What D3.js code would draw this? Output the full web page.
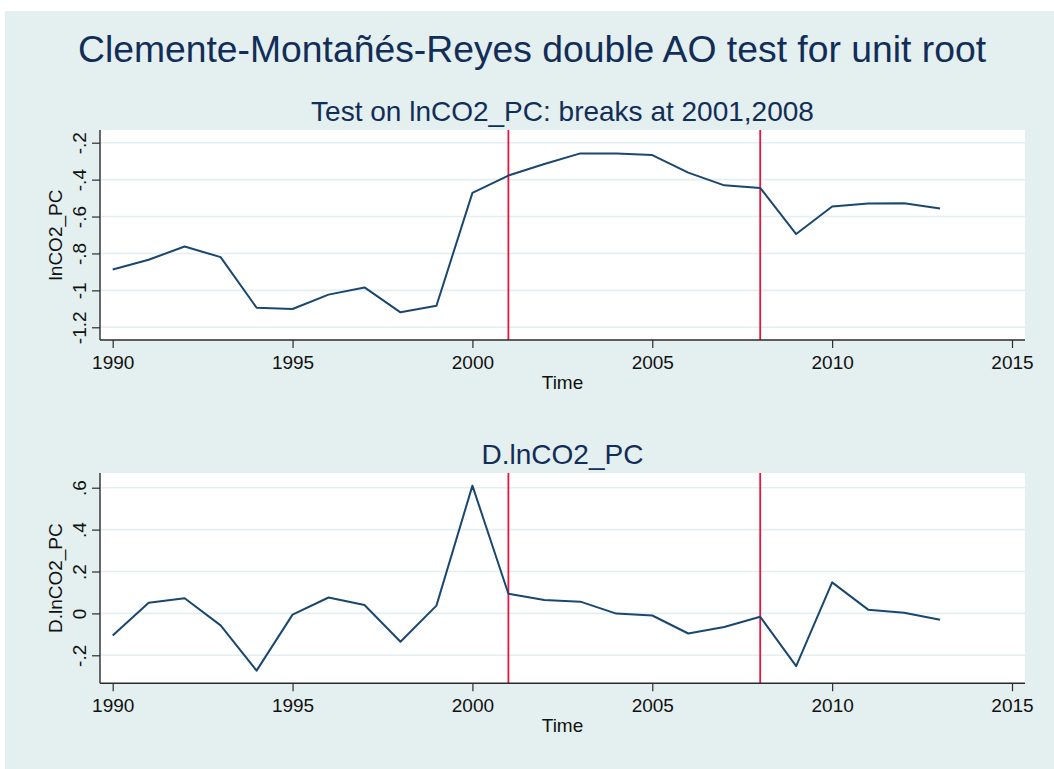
<!DOCTYPE html>
<html>
<head>
<meta charset="utf-8">
<script src="https://cdn.jsdelivr.net/npm/d3@7"></script>
<style>
  body { margin: 0; background: #ffffff; }
  text { font-family: "Liberation Sans", Arial, sans-serif; }
</style>
</head>
<body>
<div id="viz-container"></div>
<script>
// data
let years = [1990, 1991, 1992, 1993, 1994, 1995, 1996, 1997, 1998, 1999, 2000, 2001,
             2002, 2003, 2004, 2005, 2006, 2007, 2008, 2009, 2010, 2011, 2012, 2013];
let lnCO2 = [-0.887, -0.834, -0.762, -0.820, -1.094, -1.101, -1.023, -0.984, -1.119, -1.083, -0.472, -0.378,
             -0.315, -0.258, -0.258, -0.267, -0.362, -0.431, -0.445, -0.695, -0.546, -0.530, -0.528, -0.557];
let dLnCO2 = [-0.105, 0.051, 0.072, -0.057, -0.273, -0.006, 0.076, 0.040, -0.135, 0.037, 0.610, 0.094,
              0.064, 0.056, -0.001, -0.010, -0.096, -0.065, -0.016, -0.252, 0.148, 0.018, 0.003, -0.030];
let breaks = [2001, 2008];
let xTicks = [1990, 1995, 2000, 2005, 2010, 2015];
let topTicks = [-1.2, -1, -0.8, -0.6, -0.4, -0.2];
let topTickLabels = ["-1.2", "-1", "-.8", "-.6", "-.4", "-.2"];
let botTicks = [-0.2, 0, 0.2, 0.4, 0.6];
let botTickLabels = ["-.2", "0", ".2", ".4", ".6"];

let navy = "#1a476f";
let titleCol = "#122d58";

let viz = d3.select("#viz-container")
  .append("svg")
    .attr("width", 1054)
    .attr("height", 769)
;

// graph region
viz.append("rect")
    .attr("x", 5).attr("y", 11)
    .attr("width", 1049).attr("height", 758)
    .attr("fill", "#e4efef")
;

viz.append("text")
    .attr("x", 532).attr("y", 62)
    .attr("text-anchor", "middle")
    .attr("font-size", 37.3)
    .attr("fill", titleCol)
    .text("Clemente-Montañés-Reyes double AO test for unit root")
;

// same x scale for both panels
let x = d3.scaleLinear().domain([1990, 2015]).range([112.7, 1012]);
let left = 100, right = 1025;

function panel(opt) {
  let g = viz.append("g");
  let y = d3.scaleLinear().domain(opt.domain).range(opt.range);

  g.append("rect")
      .attr("x", left).attr("y", opt.top)
      .attr("width", right - left).attr("height", opt.bottom - opt.top)
      .attr("fill", "white");

  // grid
  g.selectAll(".grid").data(opt.ticks).enter()
    .append("line")
      .attr("x1", left).attr("x2", right)
      .attr("y1", d => y(d)).attr("y2", d => y(d))
      .attr("stroke", "#e3eef0")
      .attr("stroke-width", 1.6);

  // break lines
  g.selectAll(".brk").data(breaks).enter()
    .append("line")
      .attr("x1", d => x(d)).attr("x2", d => x(d))
      .attr("y1", opt.top).attr("y2", opt.bottom)
      .attr("stroke", "#e8163e")
      .attr("stroke-width", 1.8);

  let line = d3.line()
    .x((d, i) => x(years[i]))
    .y(d => y(d));

  g.append("path")
      .datum(opt.values)
      .attr("d", line)
      .attr("fill", "none")
      .attr("stroke", navy)
      .attr("stroke-width", 2)
      .attr("stroke-linejoin", "round");

  // y axis
  let yAxis = g.append("g")
      .attr("transform", `translate(${left},0)`)
      .call(d3.axisLeft(y).tickValues(opt.ticks)
        .tickFormat((d, i) => opt.tickLabels[i]).tickSize(8).tickSizeOuter(0));
  yAxis.select(".domain").remove();
  yAxis.selectAll("line").attr("stroke", "#2b2b2b").attr("stroke-width", 1.2);
  yAxis.selectAll("text")
      .attr("x", 0).attr("dy", 0)
      .attr("transform", "translate(-14,0) rotate(-90)")
      .attr("text-anchor", "middle")
      .attr("font-size", 19)
      .attr("font-family", "Liberation Sans, Arial, sans-serif")
      .attr("fill", "#111");

  // x axis
  let xAxis = g.append("g")
      .attr("transform", `translate(0,${opt.bottom})`)
      .call(d3.axisBottom(x).tickValues(xTicks)
        .tickFormat(d3.format("d")).tickSize(8).tickSizeOuter(0));
  xAxis.select(".domain").remove();
  xAxis.selectAll("line").attr("stroke", "#2b2b2b").attr("stroke-width", 1.2);
  xAxis.selectAll("text")
      .attr("y", 29).attr("dy", 0)
      .attr("font-size", 19)
      .attr("font-family", "Liberation Sans, Arial, sans-serif")
      .attr("fill", "#111");

  // axis lines
  g.append("line")
      .attr("x1", left).attr("x2", left)
      .attr("y1", opt.top).attr("y2", opt.bottom)
      .attr("stroke", "#2b2b2b").attr("stroke-width", 1.4);
  g.append("line")
      .attr("x1", left).attr("x2", right)
      .attr("y1", opt.bottom).attr("y2", opt.bottom)
      .attr("stroke", "#2b2b2b").attr("stroke-width", 1.4);

  // titles
  g.append("text")
      .attr("x", (left + right) / 2).attr("y", opt.top - 9)
      .attr("text-anchor", "middle")
      .attr("font-size", 28)
      .attr("fill", titleCol)
      .text(opt.subtitle);
  g.append("text")
      .attr("x", (left + right) / 2).attr("y", opt.bottom + 49)
      .attr("text-anchor", "middle")
      .attr("font-size", 19)
      .attr("fill", "#111")
      .text("Time");
  g.append("text")
      .attr("transform", `translate(62,${(opt.top + opt.bottom) / 2}) rotate(-90)`)
      .attr("text-anchor", "middle")
      .attr("font-size", 19)
      .attr("fill", "#111")
      .text(opt.ytitle);
}

panel({
  top: 130, bottom: 340,
  domain: [-1.2, -0.2], range: [327.3, 142.7],
  ticks: topTicks, tickLabels: topTickLabels,
  values: lnCO2,
  subtitle: "Test on lnCO2_PC: breaks at 2001,2008",
  ytitle: "lnCO2_PC"
});

panel({
  top: 473, bottom: 683.3,
  domain: [-0.2, 0.6], range: [655.3, 487.7],
  ticks: botTicks, tickLabels: botTickLabels,
  values: dLnCO2,
  subtitle: "D.lnCO2_PC",
  ytitle: "D.lnCO2_PC"
});
</script>
</body>
</html>
